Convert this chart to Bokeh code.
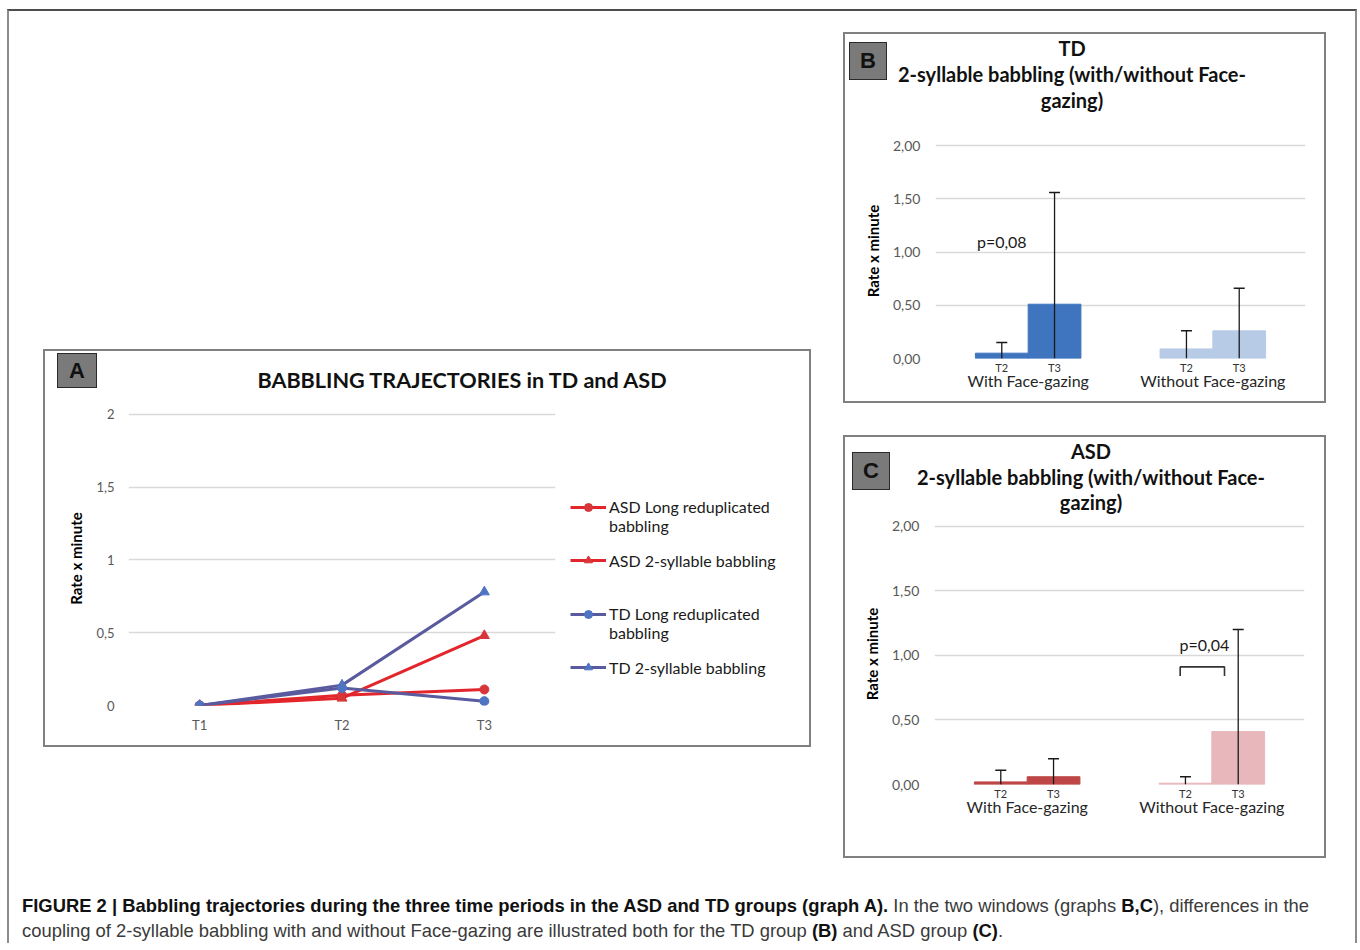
from bokeh.plotting import figure
from bokeh.models import (FactorRange, Range1d, Legend, LegendItem, FixedTicker,
                          Spacer, Div, ColumnDataSource, CategoricalAxis)
from bokeh.layouts import row, column
from bokeh.embed import file_html
from bokeh.resources import INLINE
from bokeh.core.properties import value

FONT = "Lato"

# ---------------- Panel A data ----------------
times = ["T1", "T2", "T3"]
asd_long = [0.0, 0.07, 0.11]
asd_two = [0.0, 0.05, 0.48]
td_long = [0.0, 0.12, 0.03]
td_two = [0.0, 0.14, 0.78]
series_labels = [" \nASD Long reduplicated\nbabbling", "ASD 2-syllable babbling",
                 " \nTD Long reduplicated\nbabbling", "TD 2-syllable babbling"]
a_yticks = [0, 0.5, 1, 1.5, 2]
a_ytick_labels = ["0", "0,5", "1", "1,5", "2"]
a_title = "BABBLING TRAJECTORIES in TD and ASD"

# ---------------- Panels B, C data ----------------
groups = ["With Face-gazing", "Without Face-gazing"]
periods = ["T2", "T3"]
td_means = [0.05, 0.51, 0.09, 0.26]
td_err_top = [0.15, 1.56, 0.26, 0.66]
asd_means = [0.02, 0.06, 0.01, 0.41]
asd_err_top = [0.11, 0.20, 0.06, 1.20]
bc_yticks = [0, 0.5, 1, 1.5, 2]
bc_ytick_labels = ["0,00", "0,50", "1,00", "1,50", "2,00"]
b_title = ["TD", "2-syllable babbling (with/without Face-", "gazing)"]
c_title = ["ASD", "2-syllable babbling (with/without Face-", "gazing)"]
b_pvalue = "p=0,08"
b_pvalue_y = 1.10
c_pvalue = "p=0,04"
c_pvalue_y = 1.08
c_bracket_top = 0.91
c_bracket_bottom = 0.84

RED_LINE = "#E2262C"
RED_MARK = "#D8363B"
BLUE_LINE = "#5A5B9E"
BLUE_MARK = "#4F74C2"
TD_COLORS = ["#3F74BE", "#3F74BE", "#B7CBE7", "#B7CBE7"]
ASD_COLORS = ["#BE4646", "#BE4646", "#E8B7BB", "#E8B7BB"]
GRID = "#D9D9D9"
TICK = "#595959"
PANEL_OUTLINE = {"outline": "2px solid #808080", "outline-offset": "-2px"}


def tag_html(letter, left, top, w, h):
    return (f"<div style='position:absolute;left:{left}px;top:{top}px;width:{w}px;height:{h}px;"
            f"box-sizing:border-box;background:#7A7A7A;border:1.5px solid #2a2a2a;"
            f"display:flex;align-items:center;justify-content:center;"
            f"font:bold 22px \"Liberation Sans\";color:#111'>{letter}</div>")


def title_html(lines, left, top, w, size, lh):
    body = "<br>".join(lines)
    return (f"<div style='position:absolute;left:{left}px;top:{top}px;width:{w}px;"
            f"text-align:center;white-space:nowrap;font:bold {size}px/{lh}px Lato;"
            f"color:#111'>{body}</div>")


def header(width, height, inner):
    return Div(text=f"<div style='position:relative;width:{width}px;height:{height}px;"
                    f"overflow:visible'>{inner}</div>",
               width=width, height=height, margin=0)


def style_common(p, tick_size, label_standoff):
    p.outline_line_color = None
    p.xgrid.grid_line_color = None
    p.ygrid.grid_line_color = GRID
    p.ygrid.grid_line_width = 1.3
    for ax in (p.xaxis[0], p.yaxis[0]):
        ax.axis_line_color = None
        ax.major_tick_line_color = None
        ax.minor_tick_line_color = None
        ax.major_tick_out = 0
        ax.major_tick_in = 0
    p.yaxis[0].major_label_text_font = FONT
    p.yaxis[0].major_label_text_color = TICK
    p.yaxis[0].major_label_text_font_size = tick_size
    p.yaxis[0].major_label_standoff = label_standoff
    p.yaxis[0].axis_label = "Rate x minute"
    p.yaxis[0].axis_label_text_font = FONT
    p.yaxis[0].axis_label_text_font_style = "bold"
    p.yaxis[0].axis_label_text_font_size = "15px"
    p.yaxis[0].axis_label_text_color = "#000000"
    p.yaxis[0].axis_label_standoff = 8
    p.border_fill_alpha = 0
    p.background_fill_alpha = 0


# ---------------- Panel A ----------------
pA = figure(width=517, height=348, x_range=FactorRange(*times), y_range=Range1d(0, 2.02),
            output_backend="svg", toolbar_location=None,
            min_border_left=85, min_border_right=5, min_border_top=12, min_border_bottom=42)
style_common(pA, "13px", 14)
pA.yaxis[0].ticker = FixedTicker(ticks=a_yticks)
pA.yaxis[0].major_label_overrides = dict(zip(a_yticks, a_ytick_labels))
pA.xaxis[0].major_label_text_font = FONT
pA.xaxis[0].major_label_text_color = TICK
pA.xaxis[0].major_label_text_font_size = "13px"
pA.xaxis[0].major_label_standoff = 11

series = [(asd_long, RED_LINE, RED_MARK, "circle", 9),
          (asd_two, RED_LINE, RED_MARK, "triangle", 10),
          (td_long, BLUE_LINE, BLUE_MARK, "circle", 9),
          (td_two, BLUE_LINE, BLUE_MARK, "triangle", 10)]
for vals, lc, mc, mk, ms in series:
    pA.line(times, vals, line_color=lc, line_width=3)
    pA.scatter(times, vals, marker=mk, size=ms, fill_color=mc, line_color=mc)

# Legend canvas beside the plot area: same series, with a y window that keeps the
# copies out of view, so only the legend (line + marker samples) shows.
pLeg = figure(width=251, height=348, x_range=FactorRange(*times), y_range=Range1d(10, 11),
              x_axis_type=None, y_axis_type=None, output_backend="svg", toolbar_location=None,
              min_border=0)
pLeg.grid.visible = False
pLeg.outline_line_color = None
pLeg.border_fill_alpha = 0
pLeg.background_fill_alpha = 0
items = []
for (vals, lc, mc, mk, ms), lab in zip(series, series_labels):
    rl = pLeg.line(times, vals, line_color=lc, line_width=3)
    rm = pLeg.scatter(times, vals, marker=mk, size=ms, fill_color=mc, line_color=mc)
    items.append(LegendItem(label=lab, renderers=[rl, rm]))
legA = Legend(items=items, location=(10, 28), border_line_color=None, background_fill_alpha=0,
              padding=0, margin=0, spacing=15, glyph_width=36, glyph_height=20,
              label_standoff=3, label_text_font=FONT, label_text_font_size="16px",
              label_text_color="#1a1a1a", label_height=20)
pLeg.add_layout(legA)

headA = header(768, 50, tag_html("A", 14, 4, 40, 35) +
               title_html([a_title], 134, 19, 570, 21.6, 24))
panelA = column(headA, row(pA, pLeg), styles=PANEL_OUTLINE)


# ---------------- Panels B and C ----------------
factors = [(g, t) for g in groups for t in periods]


def bar_panel(means, err_top, colors, height, left, right, top, bottom):
    p = figure(width=483, height=height,
               x_range=FactorRange(*factors, group_padding=1.5, range_padding=0.275),
               y_range=Range1d(0, 2.02), output_backend="svg", toolbar_location=None,
               min_border_left=left, min_border_right=right,
               min_border_top=top, min_border_bottom=bottom)
    style_common(p, "14px", 15)
    p.yaxis[0].ticker = FixedTicker(ticks=bc_yticks)
    p.yaxis[0].major_label_overrides = dict(zip(bc_yticks, bc_ytick_labels))
    ax = p.xaxis[0]
    ax.major_label_text_font = FONT
    ax.major_label_text_font_size = "11px"
    ax.major_label_text_color = "#333333"
    ax.major_label_standoff = 2
    ax.group_text_font_size = "1px"
    ax.group_text_alpha = 0
    ax.separator_line_color = None
    # second axis carrying the group labels, pulled up close to the period labels
    ax2 = CategoricalAxis(axis_line_color=None, major_tick_line_color=None,
                          minor_tick_line_color=None, major_tick_out=0, major_tick_in=0,
                          major_label_text_font_size="1px", major_label_text_alpha=0,
                          major_label_standoff=-6, separator_line_color=None,
                          group_text_font=FONT, group_text_font_style="normal",
                          group_text_font_size="16px", group_text_color="#262626")
    p.add_layout(ax2, "below")
    src = ColumnDataSource(dict(x=factors, top=means, err=err_top, color=colors,
                                base=[0] * len(factors)))
    p.vbar(x="x", top="top", width=1.0, fill_color="color", line_color="color", source=src)
    p.segment(x0="x", y0="base", x1="x", y1="err", line_color="#1a1a1a", line_width=1.3,
              source=src)
    p.scatter(x="x", y="err", marker="dash", size=11, line_color="#1a1a1a", line_width=1.5,
              source=src)
    return p


pB = bar_panel(td_means, td_err_top, TD_COLORS, 272, 92, 21, 12, 45)
pB.text(x=[factors[0]], y=[b_pvalue_y], text=[b_pvalue], text_align="center",
        text_baseline="middle", text_font=value(FONT), text_font_size="16px",
        text_color="#1a1a1a")
headB = header(483, 99, tag_html("B", 6, 10, 38, 38) + title_html(b_title, 0, 3, 458, 20, 26))
panelB = column(headB, pB, styles=PANEL_OUTLINE)

pC = bar_panel(asd_means, asd_err_top, ASD_COLORS, 343, 91, 22, 8, 74)
pC.multi_line(xs=[[("Without Face-gazing", "T2", -0.1), ("Without Face-gazing", "T2", -0.1),
                   ("Without Face-gazing", "T3", -0.26), ("Without Face-gazing", "T3", -0.26)]],
              ys=[[c_bracket_bottom, c_bracket_top, c_bracket_top, c_bracket_bottom]],
              line_color="#333333", line_width=1.6)
pC.text(x=[("Without Face-gazing", "T2", 0.36)], y=[c_pvalue_y], text=[c_pvalue],
        text_align="center", text_baseline="middle", text_font=value(FONT),
        text_font_size="16px", text_color="#1a1a1a")
headC = header(483, 80, tag_html("C", 9, 17, 38, 38) + title_html(c_title, 20, 4, 456, 20, 25.5))
panelC = column(headC, pC, styles=PANEL_OUTLINE)

# ---------------- Caption ----------------
caption_html = (
    "<b style='color:#111'>FIGURE 2 | Babbling trajectories during the three time periods in the "
    "ASD and TD groups (graph A).</b> In the two windows (graphs <b style='color:#111'>B,C</b>), "
    "differences in the<br>coupling of 2-syllable babbling with and without Face-gazing are "
    "illustrated both for the TD group <b style='color:#111'>(B)</b> and ASD group "
    "<b style='color:#111'>(C)</b>."
)
caption = Div(text=caption_html, width=1320, height=50, margin=0,
              styles={"font-family": "'Liberation Sans', sans-serif",
                      "font-size": "18.4px", "line-height": "25px", "color": "#3a3a3a",
                      "white-space": "nowrap"})

left_col = column(Spacer(height=338), panelA)
right_col = column(Spacer(height=21), panelB, Spacer(height=32), panelC)
top_row = row(Spacer(width=34), left_col, Spacer(width=32), right_col, Spacer(width=29))
cap_row = row(Spacer(width=13), caption)
root = column(top_row, Spacer(height=35), cap_row, margin=(9, 0, 0, 7),
              styles={"border-top": "2px solid #4d4d4d", "border-left": "2px solid #8c8c8c",
                      "border-right": "2px solid #8c8c8c"})

open("out.html", "w").write(file_html(root, INLINE))
